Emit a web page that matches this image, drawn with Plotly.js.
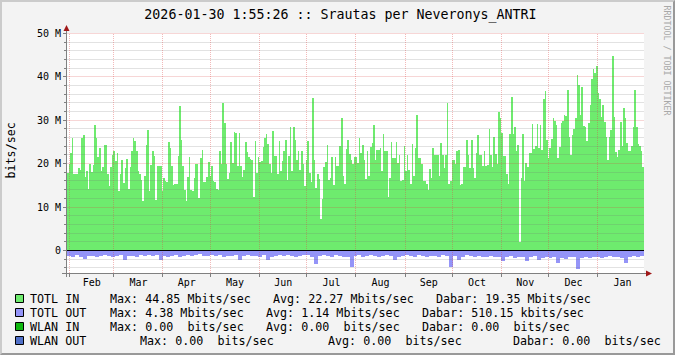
<!DOCTYPE html>
<html><head><meta charset="utf-8">
<script src="https://cdn.plot.ly/plotly-3.0.1.min.js"></script>
<style>
html,body{margin:0;padding:0;background:#F3F3F3;}
#wrap{position:relative;width:675px;height:355px;}
#chart{width:675px;height:355px;}
#frame{position:absolute;left:0;top:0;width:675px;height:355px;box-sizing:border-box;border-top:2px solid #CBCBCB;border-left:2px solid #CBCBCB;border-right:2px solid #999999;border-bottom:2px solid #999999;pointer-events:none;}
</style>
</head><body>
<div id="wrap"><div id="chart"></div><div id="frame"></div></div>
<script>
// ---------- DATA ----------
const titleText = '2026-01-30 1:55:26 :: Srautas per Neveronys_ANTRI';
const yAxisTitle = 'bits/sec';
const watermark = 'RRDTOOL / TOBI OETIKER';
const rangeStart = '2025-01-30 08:00:00';
const rangeEnd = '2026-01-30 02:00:00';
const yTickVals = [0, 10, 20, 30, 40, 50];
const yTickText = ['0', '10 M', '20 M', '30 M', '40 M', '50 M'];

// TOTL IN, Mbits/sec (one value per ~day, left to right)
const totlIn = [
17.8,20,22.5,26,17.5,17.5,17.5,19,18.6,26,26.5,17,18.4,14.2,20,18,19.8,28.8,25.8,21.5,
23.5,18.2,19.2,24.2,24.3,17.7,14.8,19.2,22,22.8,20.5,22.5,13.8,17.5,20.8,15.5,19,21,14.2,19.2,
22.8,26,25.2,23,18.4,17.6,16.3,11.5,17.2,24.2,27.7,13.6,19.8,23,21.7,11.7,19.4,19.4,19.4,13.6,
16.7,16,15.8,25,23.5,19.4,15,15.2,15.2,21.8,33.2,25.4,19.4,14,11.3,16.9,21.5,14,13.7,16.8,
20,20,12.1,21.4,23.2,15.7,15.7,17,20.4,
17.1,19.5,15.9,15.7,14.2,14,22.8,20,34,29.4,20,16.5,17.8,25,20.2,27.3,27.1,19.4,27.1,19.5,
16.9,18.6,25,22.6,21.5,21.1,20.9,12.3,25.3,17.8,21.5,20.3,20.5,23.8,26,26.9,24.5,20,17.8,27.6,
21.8,21.8,17.5,25.2,18.4,20.5,23,25.4,16.3,21.7,28.5,18.4,28.5,25.5,20.8,23,18.6,23,20,14.8,
20.9,25.3,17.8,15.7,35.2,20.9,14.5,17.7,16.5,7.3,11.8,19.2,20.4,24.2,16.2,16.8,21.5,15,21.5,19.4,
19.5,24,30.6,17.1,15.2,23.4,25.4,22.3,20.9,20,
21.5,21.5,20.2,26,22.5,24.2,20.9,16.5,23,17.2,23.8,24.8,29,20.8,23.2,23.2,23.5,18.4,26.9,22.8,
23,12.2,16.8,25,21.2,21.2,25,20.2,22,16.1,16.2,24,18.4,22.1,18.6,15.2,24.5,17.2,23.5,31.3,
21.2,21.2,20,15.9,15.9,15.4,14,18.8,16.7,23.5,22.1,22.1,22.1,17.2,24.8,22.1,18.9,22.1,34,15.2,
15.9,20.8,20.8,19.9,22.8,23.2,15,15.4,19.2,19.2,25.5,22,19,25.5,19,16.6,22.5,26.5,22,22,
19.5,22.9,19.5,19.8,28,22,19.2,26.2,22.3,
20,31.8,30.5,27.1,21.8,21.8,17.5,15.2,26.9,35.4,26.9,28.5,22.8,24.2,2,16.8,26.8,15.9,20.2,19.2,
22.5,22.5,29.2,23.4,24.1,29.2,23.6,29,23.2,34.8,36.8,25.4,21.4,23.5,25.7,30.5,29.8,28.8,21.3,23.8,
29.4,29.8,31.3,31,36.9,26.1,22.1,26.7,28,30.5,40.5,38.2,31.3,37.7,28.6,28.5,25.3,29.4,33.6,39.4,
41.9,40.9,42.5,36.3,34.8,30.8,33.6,29.5,26.1,20.8,26.1,27.8,44.85,30.8,22.6,21.5,23.2,29.7,24,32.8,
30.5,24.8,22.8,22.8,24,28.5,36.9,28.5,24.5,24,22.8,19.2
];

// TOTL OUT, Mbits/sec (drawn below zero)
const totlOut = [
1.2,1.4,1.1,1.5,1.9,1.3,1.2,1.4,1.3,1.0,1.2,1.4,1.3,1.1,2.2,1.3,1.2,1.4,1.1,1.3,1.0,1.2,1.1,2.2,1.2,1.5,1.3,1.1,1.4,1.3,1.0,1.2,1.1,0.9,1.3,1.2,
1.1,1.3,1.0,1.4,1.2,1.3,1.1,2.3,1.2,1.0,1.3,1.2,1.5,1.1,2.3,1.4,1.2,1.0,1.3,1.1,1.2,1.5,1.3,1.1,1.0,1.4,3.2,1.2,1.0,1.3,1.5,1.1,1.2,1.4,1.6,3.9,
1.2,1.0,1.4,1.3,1.1,1.2,1.5,1.3,1.1,1.2,2.3,1.5,1.2,1.1,1.3,1.4,1.0,1.2,1.6,1.3,1.2,1.4,1.1,1.3,3.8,1.2,2.3,1.4,1.1,1.3,1.5,1.2,1.6,1.4,1.2,1.5,
1.4,2.4,1.6,1.3,1.8,1.5,1.4,2.5,1.6,1.3,2.2,1.7,1.5,1.8,1.6,2.9,1.7,1.9,1.5,1.6,4.38,1.7,1.5,1.8,1.6,1.4,1.7,1.5,1.3,1.6,1.4,1.8,3.0,1.5,1.3,1.6,1.2
];

const seriesNames  = ['TOTL IN', 'TOTL OUT', 'WLAN IN', 'WLAN OUT'];
const seriesColors = ['#6EEB6E', '#9494F8', '#10B810', '#5070C8'];
const statMax = ['Max: 44.85 Mbits/sec', 'Max: 4.38 Mbits/sec', 'Max: 0.00  bits/sec', 'Max: 0.00  bits/sec'];
const statAvg = ['Avg: 22.27 Mbits/sec', 'Avg: 1.14 Mbits/sec', 'Avg: 0.00  bits/sec', 'Avg: 0.00  bits/sec'];
const statNow = ['Dabar: 19.35 Mbits/sec', 'Dabar: 510.15 kbits/sec', 'Dabar: 0.00  bits/sec', 'Dabar: 0.00  bits/sec'];

// ---------- LAYOUT ----------
const W = 675, H = 355, L = 67, R = 31, T = 33, B = 82;
const PW = W - L - R, PH = H - T - B;
const Y_MIN = -5.2, Y_MAX = 50.1;
const px = x => (x - L) / PW;
const py = y => (H - B - y) / PH;
const MONO = 'DejaVu Sans Mono';
const nb = s => s.replace(/ /g, '\u00a0');

const t0 = Date.parse(rangeStart.replace(' ', 'T') + 'Z');
const t1 = Date.parse(rangeEnd.replace(' ', 'T') + 'Z');
function slots(n) { const step = (t1 - t0) / n; return {step, x: Array.from({length: n}, (_, i) => t0 + (i + 0.5) * step)}; }
const sIn = slots(totlIn.length), sOut = slots(totlOut.length);

const traces = [
  {type: 'bar', x: sIn.x, y: totlIn, width: sIn.step, marker: {color: seriesColors[0], line: {width: 0}}, hoverinfo: 'skip', showlegend: false},
  {type: 'bar', x: sOut.x, y: totlOut.map(v => -v), width: sOut.step, marker: {color: seriesColors[1], line: {width: 0}}, hoverinfo: 'skip', showlegend: false}
];

const majorGridV = 'rgba(220,70,70,0.38)';
const majorGridH = 'rgba(215,60,60,0.21)';
const minorGridH = 'rgba(110,110,110,0.20)';
const axisCol = '#808080';

const annotations = [];
const shapes = [];

// grid drawn on top of the data (as rrdtool does), snapped to pixel centres
const snap = p => Math.floor(p) + 0.5;
const yPix = v => T + (Y_MAX - v) / (Y_MAX - Y_MIN) * PH;
const xPix = ms => L + (ms - t0) / (t1 - t0) * PW;
for (let v = -4; v <= 50; v += 2) {
  if (v === 0) continue;
  const major = v % 10 === 0;
  const yy = py(snap(yPix(v)));
  shapes.push({type: 'line', xref: 'paper', yref: 'paper', x0: 0, x1: 1, y0: yy, y1: yy,
    line: {color: major ? majorGridH : minorGridH, width: 1}});
}
for (let m = 1; m <= 12; m++) {
  const xx = px(snap(xPix(Date.UTC(2025, m, 1))));
  shapes.push({type: 'line', xref: 'paper', yref: 'paper', x0: xx, x1: xx, y0: 0, y1: 1,
    line: {color: majorGridV, width: 1, dash: '1,1'}});
}
// zero line
const y0p = py(snap(yPix(0)));
shapes.push({type: 'line', xref: 'paper', yref: 'paper', x0: 0, x1: 1, y0: y0p, y1: y0p, line: {color: '#000', width: 1}});

// y title
annotations.push({xref: 'paper', yref: 'paper', x: px(10.5), y: py(150), text: yAxisTitle, textangle: -90, showarrow: false,
  xanchor: 'center', yanchor: 'middle', font: {family: MONO, size: 11.7, color: '#000'}});
// watermark
annotations.push({xref: 'paper', yref: 'paper', x: px(666.5), y: py(61), text: nb(watermark), textangle: 90, showarrow: false,
  xanchor: 'center', yanchor: 'middle', font: {family: MONO, size: 8.3, color: '#A8A8A8'}});
// legend rows
const rowY = [298.5, 312.5, 326.5, 340.5];
const colX = [[30, 110, 273, 436], [30, 110, 266, 421.5], [30, 110, 266, 421.5], [30, 140, 328, 513]];
seriesNames.forEach((name, i) => {
  const parts = [name, statMax[i], statAvg[i], statNow[i]];
  parts.forEach((p, j) => annotations.push({xref: 'paper', yref: 'paper', x: px(colX[i][j] - 2), y: py(rowY[i]), text: nb(p),
    showarrow: false, xanchor: 'left', yanchor: 'middle', font: {family: MONO, size: 11.7, color: '#000'}}));
  shapes.push({type: 'rect', xref: 'paper', yref: 'paper', x0: px(15.5), x1: px(23.5), y0: py(rowY[i] - 4), y1: py(rowY[i] + 4),
    fillcolor: seriesColors[i], line: {color: '#000', width: 1}});
});
// axis lines and arrows
shapes.push({type: 'line', xref: 'paper', yref: 'paper', x0: px(66.5), x1: px(66.5), y0: py(277), y1: py(29), line: {color: axisCol, width: 1}});
shapes.push({type: 'line', xref: 'paper', yref: 'paper', x0: px(62), x1: px(647), y0: py(273.5), y1: py(273.5), line: {color: axisCol, width: 1}});
const arrowCol = '#A01818';
shapes.push({type: 'path', xref: 'paper', yref: 'paper', path: `M ${px(63.5)} ${py(31)} L ${px(69.5)} ${py(31)} L ${px(66.5)} ${py(25)} Z`,
  fillcolor: arrowCol, line: {width: 0}});
shapes.push({type: 'path', xref: 'paper', yref: 'paper', path: `M ${px(646)} ${py(270.5)} L ${px(646)} ${py(276.5)} L ${px(652)} ${py(273.5)} Z`,
  fillcolor: arrowCol, line: {width: 0}});

const layout = {
  width: W, height: H,
  margin: {l: L, r: R, t: T, b: B, pad: 0},
  paper_bgcolor: '#F3F3F3', plot_bgcolor: '#FFFFFF',
  barmode: 'overlay', bargap: 0, bargroupgap: 0,
  showlegend: false,
  title: {text: titleText, font: {family: MONO, size: 13.3, color: '#000'}, xref: 'container', yref: 'container',
    x: 340.5 / W, xanchor: 'center', y: 1 - 14 / H, yanchor: 'middle'},
  xaxis: {type: 'date', range: [rangeStart, rangeEnd], dtick: 'M1', tick0: '2025-02-01', tickformat: '%b', ticklabelmode: 'period',
    ticks: 'outside', ticklen: 3, tickcolor: axisCol, tickfont: {family: MONO, size: 10, color: '#000'}, ticklabelstandoff: -3,
    showgrid: false, zeroline: false, showline: false, layer: 'above traces', fixedrange: true},
  yaxis: {range: [Y_MIN, Y_MAX], tickmode: 'array', tickvals: yTickVals, ticktext: yTickText,
    ticks: 'outside', ticklen: 3, tickcolor: axisCol, tickfont: {family: MONO, size: 10, color: '#000'},
    showgrid: false, zeroline: false, showline: false, layer: 'above traces', fixedrange: true,
    minor: {tickmode: 'linear', tick0: 0, dtick: 2, ticks: 'outside', ticklen: 2, tickcolor: axisCol, showgrid: false}},
  annotations, shapes
};

Plotly.newPlot('chart', traces, layout, {staticPlot: true, displayModeBar: false});
</script>
</body></html>
